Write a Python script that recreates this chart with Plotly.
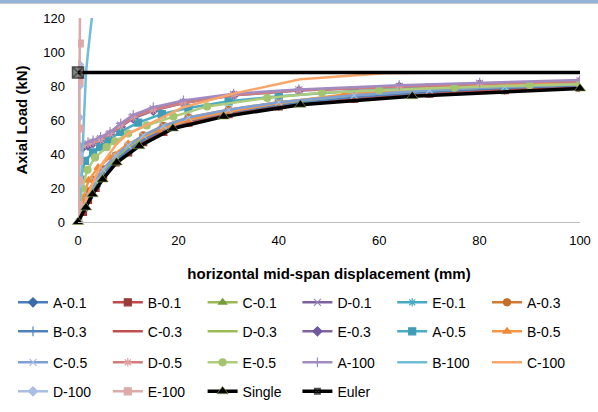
import plotly.graph_objects as go

# ---------------- data ----------------
x_low = [0, 1, 2, 3.5, 5, 7.5, 10, 13, 17, 22, 30, 40, 55, 70, 85, 100]
y_A01 = [0, 7, 14, 21, 28, 36, 42, 48, 54, 59, 64, 68.5, 73, 76, 78, 79.5]
y_B01 = [0, 6, 13, 20, 27, 35, 41, 47, 53, 58.5, 63.5, 68, 72.5, 75.5, 77.5, 79]
y_C01 = [0, 8, 15, 22, 29, 37, 43, 49, 55, 60, 65, 69.5, 74, 77, 79, 80.5]
y_E01 = [0, 9, 16, 23, 30, 38, 44, 50, 56, 61, 65.5, 70, 74.5, 77.5, 79.5, 81]
y_A03 = [0, 10, 18, 25, 31, 39, 45, 51, 56.5, 61.5, 66, 70.5, 75, 77.5, 79.5, 81]
y_B03 = [0, 7, 14, 21, 28, 36, 42.5, 48.5, 54.5, 59.5, 64.5, 69, 73.5, 76.5, 78.5, 80]
y_C03 = [0, 6, 12, 19, 26, 34, 40.5, 46.5, 52.5, 58, 63, 67.5, 72, 75, 77.5, 79]
y_D03 = [0, 8, 15, 23, 30, 38, 44, 50, 55.5, 60.5, 65.5, 70, 74.5, 77.5, 79.5, 81]
y_C05 = [0, 9, 16, 24, 31, 39, 45, 51, 56.5, 61.5, 66, 70.5, 74.5, 77.5, 79.5, 81]

x_up = [0, 0.1, 1, 2, 3, 4.5, 6.4, 8.5, 11, 15, 21, 31, 44, 64, 80, 100]
y_D01 = [0, 42, 45, 46, 47, 49, 52, 57, 62, 66.5, 70.5, 75, 77.7, 79.7, 81.5, 83]
y_E03 = [0, 41, 44, 45, 46.5, 48.5, 51.5, 56, 61, 65.5, 70, 74.5, 77.3, 79.5, 81, 82.7]
y_D05 = [0, 43, 45, 46, 47, 48.5, 52, 56.5, 61.5, 66, 70, 74.5, 77.5, 79.5, 81.3, 83]
y_A100 = [0, 44, 46, 47, 48, 50, 53, 58, 63, 67.5, 71.5, 75.5, 78, 80.5, 82, 83.5]

x_A05 = [0, 0.5, 1.4, 3, 4.4, 6, 8.4, 12, 16.7, 22, 30, 40, 55, 70, 85, 100]
y_A05 = [0, 25, 36, 41, 44, 48, 53, 58.5, 63.5, 67, 71, 74, 77, 79, 80, 81]

x_B05 = [0, 1, 2.1, 4, 6.4, 10, 16, 22, 30, 40, 53, 71, 85, 100]
y_B05 = [0, 14, 24.5, 32, 38, 46, 54, 60, 65, 70, 75, 79, 80.5, 81.5]

x_E05 = [0, 0.8, 1.9, 3.4, 5.7, 7.4, 10, 13.7, 19, 25.7, 37.7, 48.6, 60, 75, 90, 100]
y_E05 = [0, 20, 30.7, 38, 44, 47.4, 52, 56.8, 62, 68, 73, 76, 77.5, 79, 80.5, 81]

x_B100 = [0, 0.4, 0.8, 1.1, 1.4, 1.6, 2.0, 2.4, 2.8, 3.2]
y_B100 = [0, 12.5, 35, 55.8, 75, 88, 100, 112, 122, 132]

x_C100 = [0, 1, 2.5, 4.4, 7.7, 10, 14.4, 21, 31, 44.3, 55, 61, 70, 80, 90, 100]
y_C100 = [0, 8.5, 20, 32.5, 46, 52, 58, 67.5, 75.5, 84, 86.5, 87.5, 87.8, 88, 88, 88]

x_D100 = [0, 0.05, 0.08, 0.1, 0.12, 0.15, 0.2]
y_D100 = [0, 10, 22, 40, 61.6, 80, 92.6]

x_E100 = [0, 0.15, 0.2, 0.25, 0.3, 0.3, 0.35, 0.4]
y_E100 = [0, 10, 24.5, 36, 55, 83, 105, 125]

x_single = [0, 1.6, 2.9, 4.9, 7.7, 12.2, 18.9, 29, 44.3, 66.6, 100]
y_single = [0, 8.5, 16.3, 25, 35, 44.6, 55, 62, 69, 74, 78.5]

x_euler = [0, 100]
y_euler = [88, 88]

x_ticks = [0, 20, 40, 60, 80, 100]
y_ticks = [0, 20, 40, 60, 80, 100, 120]

# (name, x, y, line colour, marker symbol, marker colour)
series = [
    ("A-0.1", x_low, y_A01, "#4A7EBB", "diamond", "#3C6AA8"),
    ("B-0.1", x_low, y_B01, "#BE4B48", "square", "#9A3B38"),
    ("C-0.1", x_low, y_C01, "#98B954", "triangle-up", "#779A3C"),
    ("D-0.1", x_up, y_D01, "#7D60A0", "x-thin", "#9D88BD"),
    ("E-0.1", x_low, y_E01, "#46AAC5", "asterisk", "#46AAC5"),
    ("A-0.3", x_low, y_A03, "#D07B35", "circle", "#C56E27"),
    ("B-0.3", x_low, y_B03, "#4F81BD", "cross-thin", "#4F81BD"),
    ("C-0.3", x_low, y_C03, "#C0504D", None, None),
    ("D-0.3", x_low, y_D03, "#9BBB59", None, None),
    ("E-0.3", x_up, y_E03, "#8064A2", "diamond", "#7058A0"),
    ("A-0.5", x_A05, y_A05, "#4BACC6", "square", "#3F9DB8"),
    ("B-0.5", x_B05, y_B05, "#F79646", "triangle-up", "#EE8A3A"),
    ("C-0.5", x_low, y_C05, "#7EA0D4", "x-thin", "#A6BDE0"),
    ("D-0.5", x_up, y_D05, "#D27D7B", "asterisk", "#E29E9C"),
    ("E-0.5", x_E05, y_E05, "#AFCB7C", "circle", "#A5C46F"),
    ("A-100", x_up, y_A100, "#A28BC0", "cross-thin", "#A28BC0"),
    ("B-100", x_B100, y_B100, "#6FBED5", None, None),
    ("C-100", x_C100, y_C100, "#F9A66A", None, None),
    ("D-100", x_D100, y_D100, "#A9BEE0", "diamond", "#A9BEE0"),
    ("E-100", x_E100, y_E100, "#DDAAA9", "square", "#DDAAA9"),
]

FONT = "Liberation Sans, Arial, sans-serif"
fig = go.Figure()

legend_ids = ["legend", "legend2", "legend3", "legend4"]

for i, (name, xs, ys, lc, sym, mc) in enumerate(series):
    leg = legend_ids[i // 6]
    if sym is None:
        fig.add_trace(go.Scatter(x=xs, y=ys, name=name, mode="lines",
                                 line=dict(color=lc, width=2.5), legend=leg))
    else:
        fig.add_trace(go.Scatter(
            x=xs, y=ys, name=name, mode="lines+markers",
            line=dict(color=lc, width=2.5),
            marker=dict(symbol=sym, size=7, color=mc,
                        line=dict(color=mc, width=1.2)),
            legend=leg))

fig.add_trace(go.Scatter(
    x=x_single, y=y_single, name="Single", mode="lines+markers",
    line=dict(color="black", width=3.5),
    marker=dict(symbol="triangle-up", size=10, color="black",
                line=dict(color="#9BBB59", width=0.6)),
    cliponaxis=False, legend="legend4"))

fig.add_trace(go.Scatter(
    x=x_euler, y=y_euler, name="Euler", mode="lines+markers",
    line=dict(color="black", width=3.5),
    marker=dict(symbol="square-x", size=[11, 0], color="#555555",
                line=dict(color="black", width=1.5)),
    cliponaxis=False, legend="legend4"))

# ---------------- layout ----------------
L, R, T, B = 78, 18, 18, 190
W, H = 598, 412
pw = W - L - R
ph = H - T - B


def px_x(p):
    return (p - L) / pw


def px_y(p):
    return (H - B - p) / ph


legend_rows = [302.7, 331.7, 362.7, 391.7]
legend_common = dict(orientation="h", xanchor="left", yanchor="middle",
                     entrywidth=49.8, entrywidthmode="pixels",
                     font=dict(family=FONT, size=14, color="black"),
                     bgcolor="rgba(0,0,0,0)", borderwidth=0,
                     traceorder="normal")

layout_legends = {}
for k, lid in enumerate(legend_ids):
    layout_legends[lid] = dict(x=px_x(13), y=px_y(legend_rows[k]), **legend_common)

fig.update_layout(
    width=W, height=H,
    margin=dict(l=L, r=R, t=T, b=B, pad=0, autoexpand=False),
    paper_bgcolor="white", plot_bgcolor="white",
    font=dict(family=FONT, size=13, color="black"),
    xaxis=dict(range=[0, 100], tickvals=x_ticks, ticktext=[str(v) for v in x_ticks],
               showgrid=False, zeroline=False, showline=True, linecolor="#BFBFBF",
               linewidth=1, ticks="", ticklabelstandoff=6,
               tickfont=dict(family=FONT, size=13, color="black"),
               title=dict(text="<b>horizontal mid-span displacement (mm)</b>",
                          font=dict(family=FONT, size=15, color="black"), standoff=21)),
    yaxis=dict(range=[0, 120], tickvals=y_ticks, ticktext=[str(v) for v in y_ticks],
               showgrid=False, zeroline=False, showline=False, ticks="",
               ticklabelstandoff=12,
               tickfont=dict(family=FONT, size=13, color="black"),
               title=dict(text="<b>Axial Load (kN)</b>",
                          font=dict(family=FONT, size=15, color="black"), standoff=12)),
    showlegend=True,
    **layout_legends,
    shapes=[
        dict(type="rect", xref="paper", yref="paper", x0=px_x(0), x1=px_x(W),
             ysizemode="pixel", yanchor=1, y0=T - 3, y1=T, line=dict(width=0),
             fillcolor="#95B3D7", layer="above"),
        dict(type="rect", xref="paper", yref="paper", x0=px_x(0), x1=px_x(W),
             ysizemode="pixel", yanchor=1, y0=T - 4, y1=T - 3, line=dict(width=0),
             fillcolor="#C8C8C8", layer="above"),
    ],
)

fig.write_html("out.html")
